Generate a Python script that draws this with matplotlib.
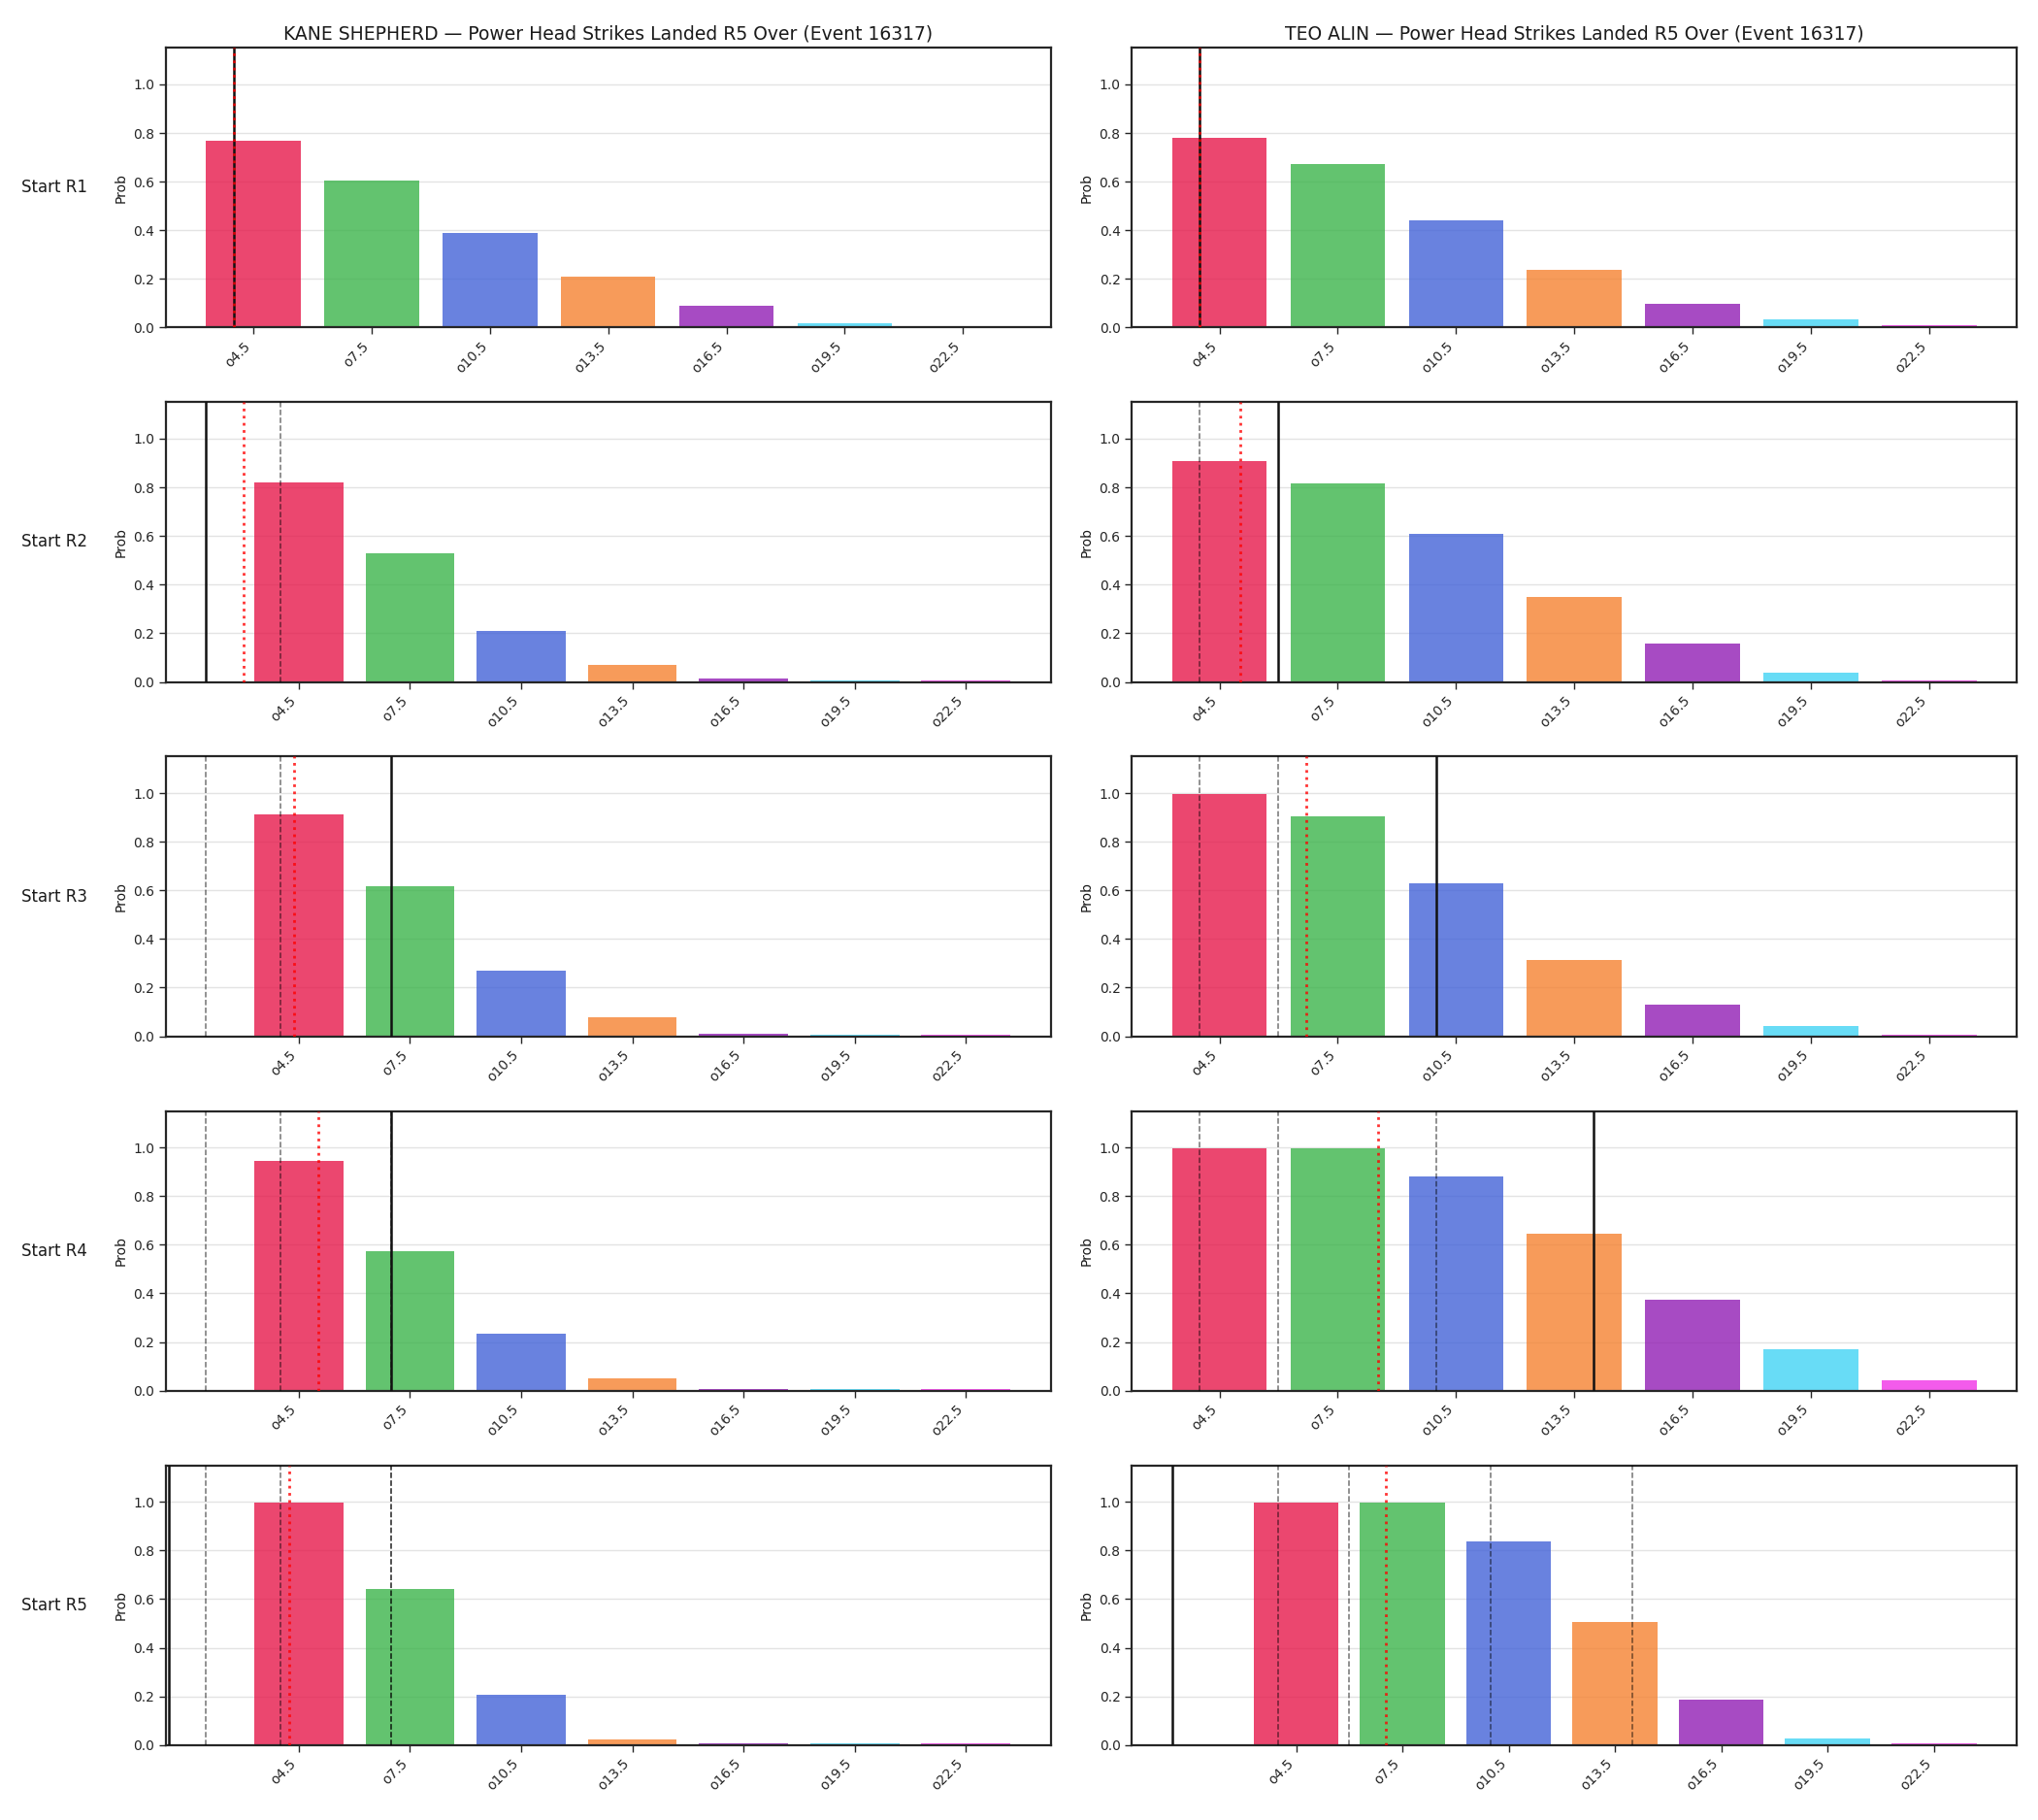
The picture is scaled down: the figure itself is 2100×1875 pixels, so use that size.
import numpy as np
import matplotlib.pyplot as plt

plt.rcParams["axes.edgecolor"] = "0.15"
plt.rcParams["axes.linewidth"] = 1.6
plt.rcParams["xtick.color"] = "0.15"
plt.rcParams["ytick.color"] = "0.15"
plt.rcParams["text.color"] = "0.1"
plt.rcParams["axes.labelcolor"] = "0.1"

# over lines (strikes)
lines = ["o4.5", "o7.5", "o10.5", "o13.5", "o16.5", "o19.5", "o22.5"]
line_vals = [4.5, 7.5, 10.5, 13.5, 16.5, 19.5, 22.5]
rounds = ["Start R1", "Start R2", "Start R3", "Start R4", "Start R5"]

# P(over) per line, one row per starting round
kane_probs = [
    [0.768, 0.603, 0.389, 0.211, 0.088, 0.019, 0.007],
    [0.821, 0.527, 0.211, 0.071, 0.015, 0.005, 0.005],
    [0.913, 0.619, 0.271, 0.080, 0.011, 0.005, 0.005],
    [0.944, 0.575, 0.235, 0.051, 0.007, 0.005, 0.005],
    [0.997, 0.641, 0.208, 0.023, 0.008, 0.005, 0.005],
]
teo_probs = [
    [0.780, 0.672, 0.439, 0.236, 0.096, 0.035, 0.011],
    [0.908, 0.816, 0.607, 0.351, 0.156, 0.039, 0.007],
    [0.996, 0.904, 0.628, 0.312, 0.132, 0.044, 0.008],
    [0.997, 0.997, 0.881, 0.644, 0.373, 0.172, 0.043],
    [0.997, 0.997, 0.837, 0.504, 0.187, 0.027, 0.008],
]

# strike markers: solid = start value, dotted = projection, dashed = earlier starts
kane_start = [4, 2, 7, 7, 1]
kane_proj = [4.0, 3.0, 4.38, 5.03, 4.23]
teo_start = [4, 6, 10, 14, 1]
teo_proj = [4.0, 5.03, 6.69, 8.52, 7.03]

fighters = [
    ("KANE SHEPHERD", kane_probs, kane_start, kane_proj),
    ("TEO ALIN", teo_probs, teo_start, teo_proj),
]
event_id = 16317

colors = ["#e6194B", "#3cb44b", "#4363d8", "#f58231", "#911eb4", "#42d4f4", "#f032e6"]


def to_x(v):
    # map a strike count onto the bar index axis
    return (v - line_vals[0]) / (line_vals[1] - line_vals[0])


fig, axes = plt.subplots(5, 2, figsize=(21, 18.75), dpi=100)
fig.subplots_adjust(left=0.0814, right=0.9895, top=0.9737, bottom=0.0412,
                    hspace=0.267, wspace=0.092)

x = np.arange(len(lines))
for col, (name, probs, starts, projs) in enumerate(fighters):
    for r in range(len(rounds)):
        ax = axes[r, col]
        ax.set_axisbelow(True)
        ax.grid(axis="y", color="#e3e3e3", linewidth=1)
        ax.bar(x, probs[r], color=colors, alpha=0.8, zorder=2)
        for v in starts[:r]:
            ax.axvline(to_x(v), color="black", ls="--", lw=1.1, alpha=0.55, zorder=3)
        if col == 0 and r == 4:
            # this panel kept its limits from before the start line was drawn
            xl = ax.get_xlim()
            ax.axvline(to_x(starts[r]), color="#111111", lw=1.8, zorder=3)
            ax.set_xlim(xl)
        else:
            ax.axvline(to_x(starts[r]), color="#111111", lw=1.8, zorder=3)
        ax.axvline(to_x(projs[r]), color="red", ls=":", lw=2, alpha=0.8, zorder=4)

        ax.set_ylim(0, 1.15)
        ax.set_xticks(x)
        ax.set_xticklabels(lines, rotation=45, ha="right")
        ax.tick_params(length=5, width=1)
        ax.set_ylabel("Prob")
        if r == 0:
            ax.set_title(f"{name} — Power Head Strikes Landed R5 Over (Event {event_id})", fontsize=13.5)
        if col == 0:
            ax.text(-0.089, 0.5, rounds[r], transform=ax.transAxes, ha="right", va="center", fontsize=12)

fig.savefig("out.png", dpi=100)
